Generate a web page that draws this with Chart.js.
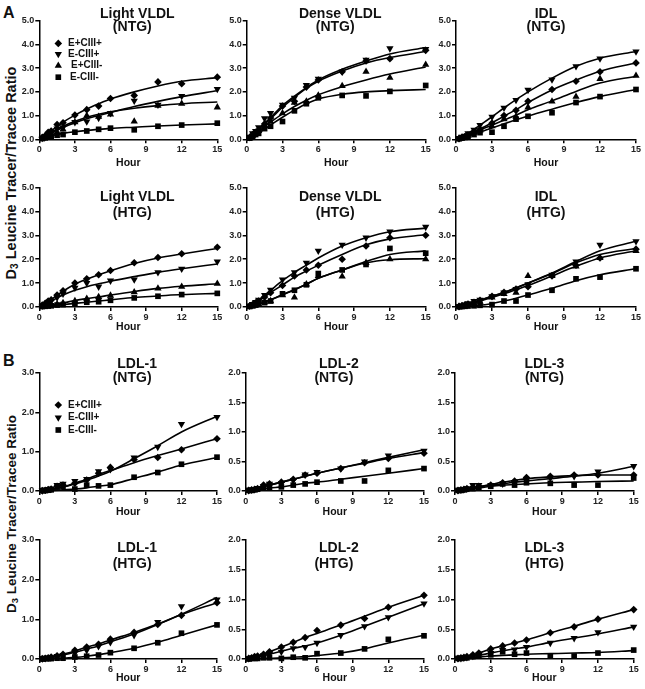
<!DOCTYPE html>
<html><head><meta charset="utf-8">
<script src="https://cdn.jsdelivr.net/npm/chart.js@4.4.0/dist/chart.umd.min.js"></script>
<style>
html,body{margin:0;padding:0;background:#fff}
body{width:645px;height:689px;position:relative;overflow:hidden;font-family:"Liberation Sans",Arial,sans-serif;color:#111}
canvas{position:absolute}
.ytitle{position:absolute;white-space:nowrap;font-weight:bold;transform:translate(-50%,-50%) rotate(-90deg);line-height:1}
.ytitle sub{font-size:0.7em;vertical-align:-0.2em}
.letter{position:absolute;font-weight:bold;font-size:16px;line-height:1}
</style></head>
<body>
<div class="letter" style="left:3px;top:5px">A</div>
<div class="letter" style="left:3px;top:353px">B</div>
<div class="ytitle" style="left:12px;top:173px;font-size:14.5px">D<sub>3</sub> Leucine Tracer/Tracee Ratio</div>
<div class="ytitle" style="left:12px;top:514px;font-size:13.5px">D<sub>3</sub> Leucine Tracer/Tracee Ratio</div>
<script>
// ---------- data ----------
const HOURS = [0.25, 0.5, 0.75, 1, 1.5, 2, 3, 4, 5, 6, 8, 10, 12, 15];
const FIT_HOURS = [0, 1, 2, 3, 4, 5, 6, 8, 10, 12, 15];
const GROUPS = ['E+CIII+', 'E-CIII+', 'E+CIII-', 'E-CIII-'];
const X_TICKS = [0, 3, 6, 9, 12, 15];
const Y_TICKS_VLDL = [0, 1, 2, 3, 4, 5];
const Y_TICKS_LDL1 = [0, 1, 2, 3];
const Y_TICKS_LDL23 = [0, 0.5, 1, 1.5, 2];
const X_LABEL = 'Hour';
const PANEL_TITLES = [
  ['Light VLDL', '(NTG)'], ['Dense VLDL', '(NTG)'], ['IDL', '(NTG)'],
  ['Light VLDL', '(HTG)'], ['Dense VLDL', '(HTG)'], ['IDL', '(HTG)'],
  ['LDL-1', '(NTG)'], ['LDL-2', '(NTG)'], ['LDL-3', '(NTG)'],
  ['LDL-1', '(HTG)'], ['LDL-2', '(HTG)'], ['LDL-3', '(HTG)']
];

// Light VLDL (NTG)
const lvNTG_EpCp = [0.08,0.15,0.3,0.35,0.62,0.7,1.02,1.25,1.4,1.72,1.85,2.42,2.34,2.62];
const lvNTG_EpCp_fit = [0,0.36,0.72,1.02,1.28,1.5,1.7,2.0,2.25,2.45,2.6];
const lvNTG_EmCp = [0.05,0.12,0.2,0.25,0.45,0.5,0.72,0.75,0.9,1.1,1.62,1.45,1.82,2.12];
const lvNTG_EmCp_fit = [0,0.26,0.5,0.7,0.87,1.0,1.13,1.38,1.6,1.8,2.05];
const lvNTG_EpCm = [0.05,0.1,0.2,0.25,0.3,0.42,0.72,1.0,0.95,1.05,0.75,1.42,1.5,1.35];
const lvNTG_EpCm_fit = [0,0.3,0.55,0.76,0.93,1.06,1.16,1.31,1.42,1.5,1.57];
const lvNTG_EmCm = [0.03,0.06,0.1,0.12,0.17,0.2,0.3,0.35,0.42,0.47,0.4,0.55,0.6,0.68];
const lvNTG_EmCm_fit = [0,0.15,0.25,0.32,0.37,0.42,0.46,0.51,0.56,0.6,0.65];
// Dense VLDL (NTG)
const dvNTG_EpCp = [0.08,0.2,0.3,0.4,0.65,0.9,1.4,1.6,2.2,2.5,2.85,3.3,3.4,3.75];
const dvNTG_EpCp_fit = [0,0.42,0.87,1.35,1.77,2.15,2.45,2.88,3.22,3.45,3.7];
const dvNTG_EmCp = [0.1,0.25,0.35,0.5,0.88,1.1,1.45,1.75,2.28,2.55,2.85,3.35,3.83,3.8];
const dvNTG_EmCp_fit = [0,0.45,0.92,1.42,1.82,2.18,2.5,2.95,3.3,3.6,3.87];
const dvNTG_EpCm = [0.05,0.15,0.25,0.35,0.55,0.75,1.1,1.55,1.6,1.85,2.25,2.85,2.6,3.15];
const dvNTG_EpCm_fit = [0,0.35,0.72,1.07,1.38,1.65,1.88,2.22,2.5,2.75,3.05];
const dvNTG_EmCm = [0.05,0.1,0.2,0.25,0.45,0.55,0.75,1.2,1.5,1.75,1.85,1.83,2.02,2.27];
const dvNTG_EmCm_fit = [0,0.27,0.6,0.93,1.23,1.5,1.7,1.9,2.0,2.05,2.1];
// IDL (NTG)
const idlNTG_EpCp = [0.03,0.08,0.12,0.18,0.3,0.42,0.68,1.0,1.22,1.6,2.1,2.45,2.85,3.22];
const idlNTG_EpCp_fit = [0,0.2,0.44,0.7,0.97,1.25,1.55,2.08,2.5,2.87,3.22];
const idlNTG_EmCp = [0.05,0.1,0.15,0.25,0.4,0.6,0.95,1.33,1.65,2.08,2.52,3.08,3.4,3.7];
const idlNTG_EmCp_fit = [0,0.25,0.6,0.95,1.32,1.67,2.0,2.58,3.08,3.42,3.7];
const idlNTG_EpCm = [0.03,0.06,0.1,0.15,0.28,0.38,0.55,0.85,0.95,1.35,1.6,1.8,2.55,2.68];
const idlNTG_EpCm_fit = [0,0.18,0.4,0.6,0.8,1.02,1.25,1.62,2.02,2.37,2.66];
const idlNTG_EmCm = [0.02,0.05,0.08,0.12,0.2,0.28,0.3,0.55,0.85,0.97,1.12,1.55,1.8,2.1];
const idlNTG_EmCm_fit = [0,0.13,0.3,0.48,0.65,0.82,0.98,1.27,1.55,1.8,2.1];
// Light VLDL (HTG)
const lvHTG_EpCp = [0.08,0.15,0.25,0.3,0.5,0.68,1.0,1.18,1.35,1.53,1.85,2.07,2.23,2.5];
const lvHTG_EpCp_fit = [0,0.32,0.66,0.95,1.17,1.35,1.52,1.82,2.05,2.22,2.45];
const lvHTG_EmCp = [0.05,0.1,0.18,0.25,0.4,0.55,0.8,1.0,0.85,1.1,1.15,1.45,1.6,1.9];
const lvHTG_EmCp_fit = [0,0.25,0.5,0.7,0.85,0.97,1.08,1.27,1.45,1.6,1.8];
const lvHTG_EpCm = [0.02,0.04,0.06,0.08,0.12,0.17,0.25,0.35,0.42,0.48,0.62,0.78,0.85,0.98];
const lvHTG_EpCm_fit = [0,0.08,0.17,0.27,0.35,0.42,0.5,0.65,0.78,0.87,0.97];
const lvHTG_EmCm = [0.02,0.03,0.04,0.05,0.08,0.1,0.15,0.2,0.22,0.28,0.38,0.45,0.52,0.57];
const lvHTG_EmCm_fit = [0,0.05,0.1,0.15,0.2,0.25,0.3,0.4,0.46,0.52,0.57];
// Dense VLDL (HTG)
const dvHTG_EpCp = [0.05,0.1,0.18,0.25,0.42,0.6,0.9,1.3,1.55,1.75,2.0,2.55,2.9,3.0];
const dvHTG_EpCp_fit = [0,0.25,0.6,0.92,1.25,1.5,1.75,2.2,2.6,2.85,3.02];
const dvHTG_EmCp = [0.05,0.12,0.2,0.3,0.5,0.72,1.15,1.45,1.85,2.35,2.6,2.9,3.15,3.35];
const dvHTG_EmCp_fit = [0,0.3,0.7,1.1,1.45,1.75,2.05,2.55,2.9,3.15,3.3];
const dvHTG_EpCm = [0.02,0.04,0.08,0.12,0.2,0.25,0.5,0.4,0.95,1.3,1.28,1.85,2.0,2.0];
const dvHTG_EpCm_fit = [0,0.12,0.3,0.5,0.72,0.95,1.2,1.55,1.85,1.98,2.02];
const dvHTG_EmCm = [0.02,0.05,0.08,0.12,0.18,0.25,0.55,0.7,0.93,1.4,1.55,1.78,2.45,2.25];
const dvHTG_EmCm_fit = [0,0.12,0.3,0.52,0.72,0.95,1.2,1.55,1.9,2.2,2.35];
// IDL (HTG)
const idlHTG_EpCp = [0.02,0.05,0.08,0.12,0.2,0.28,0.45,0.62,0.75,0.85,1.3,1.75,2.05,2.42];
const idlHTG_EpCp_fit = [0,0.12,0.28,0.45,0.62,0.8,1.0,1.4,1.85,2.2,2.45];
const idlHTG_EmCp = [0.03,0.06,0.1,0.15,0.25,0.3,0.45,0.6,0.75,0.95,1.35,1.9,2.6,2.75];
const idlHTG_EmCp_fit = [0,0.12,0.28,0.45,0.6,0.8,1.0,1.42,1.9,2.35,2.75];
const idlHTG_EpCm = [0.02,0.04,0.06,0.1,0.15,0.22,0.4,0.55,0.6,1.3,1.3,1.7,2.05,2.35];
const idlHTG_EpCm_fit = [0,0.1,0.25,0.4,0.55,0.72,0.9,1.3,1.7,2.05,2.35];
const idlHTG_EmCm = [0.01,0.02,0.03,0.04,0.05,0.07,0.1,0.25,0.25,0.5,0.7,1.18,1.25,1.6];
const idlHTG_EmCm_fit = [0,0.03,0.07,0.15,0.25,0.37,0.5,0.78,1.1,1.35,1.6];
// LDL-1 (NTG)
const ldl1NTG_EpCp = [0.01,0.02,0.04,0.05,0.12,0.15,0.2,0.28,0.45,0.6,0.8,0.85,1.05,1.33];
const ldl1NTG_EpCp_fit = [0,0.04,0.1,0.2,0.3,0.42,0.52,0.72,0.9,1.07,1.33];
const ldl1NTG_EmCp = [0.01,0.03,0.05,0.06,0.15,0.18,0.25,0.3,0.5,0.55,0.85,1.12,1.7,1.88];
const ldl1NTG_EmCp_fit = [0,0.04,0.1,0.18,0.27,0.38,0.5,0.82,1.15,1.5,1.9];
const ldl1NTG_EmCm = [0.01,0.01,0.02,0.03,0.1,0.12,0.05,0.15,0.13,0.15,0.35,0.47,0.68,0.86];
const ldl1NTG_EmCm_fit = [0,0.01,0.03,0.05,0.08,0.12,0.16,0.32,0.48,0.66,0.85];
// LDL-2 (NTG)
const ldl2NTG_EpCp = [0.01,0.02,0.03,0.04,0.1,0.12,0.15,0.2,0.27,0.3,0.38,0.48,0.55,0.64];
const ldl2NTG_EpCp_fit = [0,0.05,0.1,0.15,0.2,0.25,0.3,0.39,0.47,0.55,0.65];
const ldl2NTG_EmCp = [0.01,0.02,0.03,0.05,0.08,0.12,0.13,0.18,0.28,0.32,0.38,0.5,0.6,0.68];
const ldl2NTG_EmCp_fit = [0,0.05,0.1,0.15,0.2,0.25,0.3,0.39,0.48,0.57,0.7];
const ldl2NTG_EmCm = [0.01,0.01,0.02,0.03,0.05,0.06,0.07,0.1,0.12,0.15,0.17,0.17,0.35,0.38];
const ldl2NTG_EmCm_fit = [0,0.02,0.05,0.07,0.1,0.13,0.15,0.2,0.25,0.3,0.38];
// LDL-3 (NTG)
const ldl3NTG_EpCp = [0.01,0.02,0.03,0.04,0.06,0.08,0.1,0.14,0.17,0.23,0.25,0.27,0.27,0.27];
const ldl3NTG_EpCp_fit = [0,0.03,0.07,0.11,0.15,0.18,0.21,0.24,0.26,0.27,0.27];
const ldl3NTG_EmCp = [0.01,0.02,0.03,0.04,0.1,0.1,0.1,0.12,0.15,0.18,0.22,0.25,0.33,0.42];
const ldl3NTG_EmCp_fit = [0,0.03,0.07,0.1,0.12,0.15,0.17,0.21,0.25,0.3,0.42];
const ldl3NTG_EmCm = [0.01,0.01,0.02,0.03,0.04,0.05,0.08,0.12,0.1,0.14,0.13,0.1,0.1,0.22];
const ldl3NTG_EmCm_fit = [0,0.02,0.05,0.08,0.1,0.11,0.12,0.14,0.15,0.16,0.17];
// LDL-1 (HTG)
const ldl1HTG_EpCp = [0.01,0.02,0.03,0.05,0.08,0.12,0.22,0.3,0.37,0.5,0.67,0.87,1.1,1.42];
const ldl1HTG_EpCp_fit = [0,0.05,0.12,0.2,0.3,0.38,0.48,0.67,0.88,1.12,1.42];
const ldl1HTG_EmCp = [0.01,0.02,0.03,0.04,0.07,0.1,0.15,0.22,0.32,0.42,0.6,0.93,1.33,1.5];
const ldl1HTG_EmCp_fit = [0,0.04,0.1,0.17,0.25,0.33,0.43,0.63,0.87,1.13,1.55];
const ldl1HTG_EmCm = [0,0.01,0.01,0.01,0.02,0.02,0.05,0.07,0.1,0.16,0.27,0.41,0.65,0.86];
const ldl1HTG_EmCm_fit = [0,0.01,0.02,0.04,0.07,0.11,0.16,0.27,0.42,0.6,0.86];
// LDL-2 (HTG)
const ldl2HTG_EpCp = [0.01,0.02,0.04,0.05,0.08,0.12,0.2,0.28,0.36,0.48,0.57,0.68,0.87,1.07];
const ldl2HTG_EpCp_fit = [0,0.05,0.12,0.2,0.28,0.36,0.43,0.57,0.72,0.87,1.07];
const ldl2HTG_EmCp = [0.01,0.02,0.03,0.03,0.06,0.08,0.12,0.18,0.2,0.27,0.4,0.55,0.7,0.93];
const ldl2HTG_EmCp_fit = [0,0.03,0.08,0.13,0.18,0.22,0.27,0.4,0.55,0.7,0.93];
const ldl2HTG_EmCm = [0,0.01,0.01,0.01,0.02,0.02,0.01,0.03,0.02,0.09,0.1,0.17,0.33,0.39];
const ldl2HTG_EmCm_fit = [0,0.005,0.01,0.02,0.03,0.04,0.06,0.1,0.17,0.27,0.4];
// LDL-3 (HTG)
const ldl3HTG_EpCp = [0.01,0.02,0.03,0.04,0.07,0.1,0.17,0.22,0.27,0.32,0.44,0.54,0.67,0.83];
const ldl3HTG_EpCp_fit = [0,0.04,0.1,0.17,0.22,0.27,0.32,0.44,0.55,0.67,0.83];
const ldl3HTG_EmCp = [0.01,0.01,0.02,0.03,0.05,0.07,0.1,0.15,0.16,0.2,0.27,0.35,0.45,0.54];
const ldl3HTG_EmCp_fit = [0,0.02,0.06,0.1,0.14,0.17,0.2,0.28,0.35,0.42,0.54];
const ldl3HTG_EmCm = [0.01,0.01,0.02,0.02,0.04,0.05,0.07,0.12,0.08,0.1,0.05,0.05,0.1,0.15];
const ldl3HTG_EmCm_fit = [0,0.01,0.03,0.05,0.06,0.07,0.08,0.09,0.1,0.11,0.14];

// ---------- panel assembly ----------
const PANELS = [
  {t:0, yt:Y_TICKS_VLDL, legend:true,  s:[[0,lvNTG_EpCp,lvNTG_EpCp_fit],[1,lvNTG_EmCp,lvNTG_EmCp_fit],[2,lvNTG_EpCm,lvNTG_EpCm_fit],[3,lvNTG_EmCm,lvNTG_EmCm_fit]]},
  {t:1, yt:Y_TICKS_VLDL, s:[[0,dvNTG_EpCp,dvNTG_EpCp_fit],[1,dvNTG_EmCp,dvNTG_EmCp_fit],[2,dvNTG_EpCm,dvNTG_EpCm_fit],[3,dvNTG_EmCm,dvNTG_EmCm_fit]]},
  {t:2, yt:Y_TICKS_VLDL, s:[[0,idlNTG_EpCp,idlNTG_EpCp_fit],[1,idlNTG_EmCp,idlNTG_EmCp_fit],[2,idlNTG_EpCm,idlNTG_EpCm_fit],[3,idlNTG_EmCm,idlNTG_EmCm_fit]]},
  {t:3, yt:Y_TICKS_VLDL, s:[[0,lvHTG_EpCp,lvHTG_EpCp_fit],[1,lvHTG_EmCp,lvHTG_EmCp_fit],[2,lvHTG_EpCm,lvHTG_EpCm_fit],[3,lvHTG_EmCm,lvHTG_EmCm_fit]]},
  {t:4, yt:Y_TICKS_VLDL, s:[[0,dvHTG_EpCp,dvHTG_EpCp_fit],[1,dvHTG_EmCp,dvHTG_EmCp_fit],[2,dvHTG_EpCm,dvHTG_EpCm_fit],[3,dvHTG_EmCm,dvHTG_EmCm_fit]]},
  {t:5, yt:Y_TICKS_VLDL, s:[[0,idlHTG_EpCp,idlHTG_EpCp_fit],[1,idlHTG_EmCp,idlHTG_EmCp_fit],[2,idlHTG_EpCm,idlHTG_EpCm_fit],[3,idlHTG_EmCm,idlHTG_EmCm_fit]]},
  {t:6, yt:Y_TICKS_LDL1, legend:true, s:[[0,ldl1NTG_EpCp,ldl1NTG_EpCp_fit],[1,ldl1NTG_EmCp,ldl1NTG_EmCp_fit],[3,ldl1NTG_EmCm,ldl1NTG_EmCm_fit]]},
  {t:7, yt:Y_TICKS_LDL23, s:[[0,ldl2NTG_EpCp,ldl2NTG_EpCp_fit],[1,ldl2NTG_EmCp,ldl2NTG_EmCp_fit],[3,ldl2NTG_EmCm,ldl2NTG_EmCm_fit]]},
  {t:8, yt:Y_TICKS_LDL23, s:[[0,ldl3NTG_EpCp,ldl3NTG_EpCp_fit],[1,ldl3NTG_EmCp,ldl3NTG_EmCp_fit],[3,ldl3NTG_EmCm,ldl3NTG_EmCm_fit]]},
  {t:9, yt:Y_TICKS_LDL1, s:[[0,ldl1HTG_EpCp,ldl1HTG_EpCp_fit],[1,ldl1HTG_EmCp,ldl1HTG_EmCp_fit],[3,ldl1HTG_EmCm,ldl1HTG_EmCm_fit]]},
  {t:10, yt:Y_TICKS_LDL23, s:[[0,ldl2HTG_EpCp,ldl2HTG_EpCp_fit],[1,ldl2HTG_EmCp,ldl2HTG_EmCp_fit],[3,ldl2HTG_EmCm,ldl2HTG_EmCm_fit]]},
  {t:11, yt:Y_TICKS_LDL23, s:[[0,ldl3HTG_EpCp,ldl3HTG_EpCp_fit],[1,ldl3HTG_EmCp,ldl3HTG_EmCp_fit],[3,ldl3HTG_EmCm,ldl3HTG_EmCm_fit]]}
];

// ---------- presentation ----------
const MARK = [
  {pointStyle:'rectRot', rotation:0, radius:3.8},
  {pointStyle:'triangle', rotation:180, radius:4.2},
  {pointStyle:'triangle', rotation:0, radius:4.2},
  {pointStyle:'rect', rotation:0, radius:4}
];
const ROWS = [ {top:20.7, bottom:139.3, ty:[-7,6.5], hour:24},
               {top:187.5, bottom:307, ty:[10,25.5], hour:20},
               {top:373, bottom:491, ty:[-9,5.5], hour:21},
               {top:540, bottom:659, ty:[8.5,24.5], hour:19} ];
const COLS_A = [[39.3,217.3],[246.7,425.7],[456,636]];
const COLS_B = [[39.3,217],[245.7,424],[455,633.7]];
const TITLE_DX = [[9,4],[4,-1],[0,0]];
const LEG = {A:{dy:[22.7,33.3,45,56.5], tx:[68,68,71,70]}, B:{dy:[32,44.5,57], tx:[68,68,68]}};
const FONT = '"Liberation Sans", Arial, sans-serif';
const PADL = 30, PADT = 22, PADR = 10, XH = 32;

function markerPath(ctx, m, x, y) {
  if (Chart.helpers && Chart.helpers.drawPoint) {
    Chart.helpers.drawPoint(ctx, {pointStyle:m.pointStyle, rotation:m.rotation, radius:m.radius, borderWidth:0}, x, y);
  }
}

const overlay = {
  id: 'overlay',
  afterDraw(chart, args, o) {
    const {ctx, chartArea: ca} = chart;
    ctx.save();
    ctx.fillStyle = '#111';
    ctx.textAlign = 'center';
    ctx.textBaseline = 'middle';
    ctx.font = 'bold 14px ' + FONT;
    const cx = (ca.left + ca.right) / 2;
    ctx.fillText(o.title[0], cx + o.dx[0], ca.top + o.ty[0]);
    ctx.fillText(o.title[1], cx + o.dx[1], ca.top + o.ty[1]);
    if (o.legend) {
      ctx.font = 'bold 10px ' + FONT;
      ctx.textAlign = 'left';
      o.legend.items.forEach((gi, k) => {
        const y = ca.top + o.legend.dy[k];
        ctx.fillStyle = '#000';
        markerPath(ctx, MARK[gi], ca.left + 19, y);
        ctx.fillStyle = '#111';
        ctx.fillText(GROUPS[gi], o.legend.tx[k] - 39.3 + ca.left, y);
      });
    }
    ctx.restore();
  }
};

PANELS.forEach((p, idx) => {
  const r = Math.floor(idx / 3), c = idx % 3;
  const row = ROWS[r];
  const cols = r < 2 ? COLS_A : COLS_B;
  const [pl, pr] = cols[c];
  const pw = pr - pl, ph = row.bottom - row.top;
  const cLeft = Math.floor(pl - PADL), cTop = Math.floor(row.top - PADT);
  const padLeft = pl - PADL - cLeft, padTop = row.top - cTop;
  const W = Math.ceil(padLeft + PADL + pw + PADR), H = Math.ceil(padTop + ph + XH);
  const padRight = W - padLeft - PADL - pw, padBottom = H - padTop - ph - XH;
  const cv = document.createElement('canvas');
  cv.width = W; cv.height = H;
  cv.style.left = cLeft + 'px'; cv.style.top = cTop + 'px';
  cv.style.width = W + 'px'; cv.style.height = H + 'px';
  document.body.appendChild(cv);

  const datasets = [];
  p.s.forEach(([gi, pts, fit]) => {
    datasets.push({
      label: GROUPS[gi] + ' fit', showLine: true,
      data: FIT_HOURS.map((h, i) => ({x: h, y: fit[i]})),
      borderColor: '#000', borderWidth: 1.6, pointRadius: 0, pointHoverRadius: 0,
      cubicInterpolationMode: 'monotone', fill: false, clip: false
    });
    const m = MARK[gi];
    datasets.push({
      label: GROUPS[gi], showLine: false,
      data: HOURS.map((h, i) => ({x: h, y: pts[i]})),
      pointStyle: m.pointStyle, pointRotation: m.rotation, pointRadius: m.radius,
      pointBackgroundColor: '#000', pointBorderWidth: 0, pointBorderColor: '#000', clip: false
    });
  });

  const yt = p.yt;
  const isA = r < 2;
  new Chart(cv, {
    type: 'scatter',
    data: {datasets},
    options: {
      responsive: false, animation: false, devicePixelRatio: 1,
      layout: {padding: {left: padLeft, top: padTop, right: padRight, bottom: padBottom}},
      plugins: {
        legend: {display: false}, tooltip: {enabled: false},
        overlay: {
          title: PANEL_TITLES[p.t], ty: row.ty, dx: TITLE_DX[c],
          legend: p.legend ? {items: p.s.map(s => s[0]), dy: isA ? LEG.A.dy : LEG.B.dy, tx: isA ? LEG.A.tx : LEG.B.tx} : null
        }
      },
      scales: {
        x: {
          type: 'linear', min: 0, max: 15,
          afterBuildTicks: s => { s.ticks = X_TICKS.map(v => ({value: v})); },
          afterFit: s => { s.height = XH; },
          ticks: {color: '#222', font: {family: FONT, size: 9, weight: 'bold'}, padding: 1, maxRotation: 0, autoSkip: false},
          grid: {display: true, drawOnChartArea: false, drawTicks: true, tickLength: 4, color: '#000', lineWidth: 1.5},
          border: {display: true, color: '#000', width: 1.5},
          title: {display: true, text: X_LABEL, color: '#111', font: {family: FONT, size: 10.5, weight: 'bold'},
                  padding: {top: 0, bottom: XH - row.hour - 6.3}}
        },
        y: {
          type: 'linear', min: 0, max: yt[yt.length - 1],
          afterBuildTicks: s => { s.ticks = yt.map(v => ({value: v})); },
          afterFit: s => { s.width = PADL; },
          ticks: {color: '#222', font: {family: FONT, size: 9, weight: 'bold'}, padding: 1,
                  callback: v => Number(v).toFixed(1)},
          grid: {display: true, drawOnChartArea: false, drawTicks: true, tickLength: 4, color: '#000', lineWidth: 1.5},
          border: {display: true, color: '#000', width: 1.5}
        }
      }
    },
    plugins: [overlay]
  });
});
</script>
</body></html>
